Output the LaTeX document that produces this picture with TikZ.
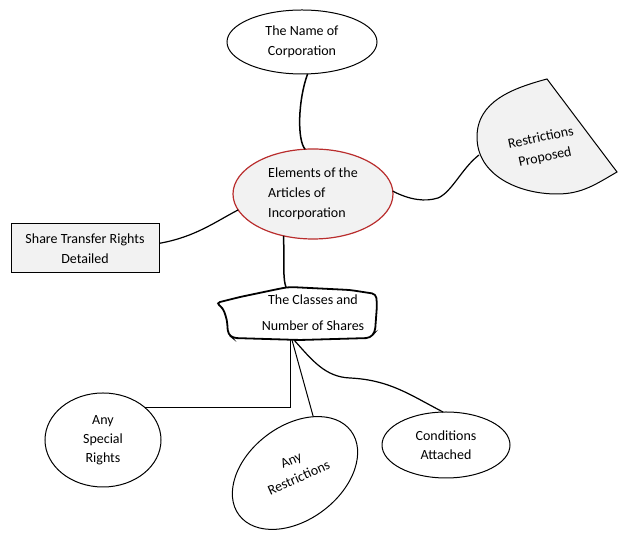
\documentclass[tikz,border=0pt]{standalone}
\usepackage{fontspec}
\setmainfont{Carlito}
\usetikzlibrary{shapes.geometric}
\definecolor{boxgray}{RGB}{242,242,242}
\definecolor{rimred}{RGB}{185,45,45}

\begin{document}
\begin{tikzpicture}[x=1pt, y=1pt, font=\fontsize{14}{20}\selectfont,
  bubble/.style={ellipse, draw, line width=1pt, inner sep=0pt, outer sep=0pt, align=center},
  link/.style={line width=1.2pt}]
  \useasboundingbox (0,0) rectangle (624,540);

  \node[bubble, minimum width=150pt, minimum height=64pt] (name) at (302,498) {The Name of\\Corporation};
  \node[bubble, draw=rimred, line width=1.2pt, fill=boxgray, minimum width=160pt, minimum height=90pt, align=left] (elements) at (313,346) {Elements of the\\Articles of\\Incorporation};

  \filldraw[line width=1pt, fill=boxgray] (547,461) -- (617,368) to[out=210, in=0] (557,346) to[out=180, in=270] (477,403) to[out=90, in=195] (547,461) -- cycle;
  \node[rotate=12, align=center] (restr) at (543,392) {Restrictions\\Proposed};
  \coordinate (restrjoin) at (479,385);

  \node[draw, line width=1pt, fill=boxgray, minimum width=148pt, minimum height=49pt, inner sep=0pt, align=center] (share) at (85,291.5) {Share Transfer Rights\\Detailed};

  \draw[line width=1.8pt, rounded corners=4pt] (216,237) -- (240,243) -- (283,252) -- (290,253) -- (350,250) -- (376,246) -- (377,235) -- (375,208) -- (370,202) -- (300,200) -- (233,202) -- (228,206) -- (227,220) -- (223,232) -- cycle;
  \node[align=center, font=\fontsize{14}{26}\selectfont] (classes) at (313,227) {The Classes and\\Number of Shares};
  \coordinate (classtop) at (286,253);
  \coordinate (classbot) at (292,200);

  \node[bubble, minimum width=116pt, minimum height=94pt, font=\fontsize{14}{19}\selectfont] (special) at (103,100) {Any\\Special\\Rights};
  \node[bubble, minimum width=140pt, minimum height=94pt, rotate=37] (anyrestr) at (295,67) {};
  \node[rotate=24, align=center, font=\fontsize{14}{19}\selectfont] (anyrestrtext) at ([yshift=4pt]anyrestr.center) {Any\\Restrictions};
  \node[bubble, minimum width=128pt, minimum height=66pt, font=\fontsize{14}{19}\selectfont] (conditions) at (446,95) {Conditions\\Attached};

  \draw[line width=1.5pt] (name.-80) .. controls (298,440) and (297,400) .. (elements.100);
  \draw[link] (elements.2) .. controls (410,340) and (425,338) .. (438,342) .. controls (452,348) and (462,372) .. (restrjoin);
  \draw[link] (share.4) .. controls (195,303) and (215,318) .. (elements.192);
  \draw[line width=1.5pt] (elements.235) .. controls (284,275) and (283,260) .. (classtop);
  \draw[line width=1pt] ([xshift=-2pt]classbot) |- (special.38);
  \draw[line width=1pt] (classbot) -- (anyrestr.35);
  \draw[link] ([xshift=2pt]classbot) .. controls (312,180) and (325,163) .. (350,162) .. controls (390,160) and (410,145) .. (conditions.95);
\end{tikzpicture}
\end{document}
